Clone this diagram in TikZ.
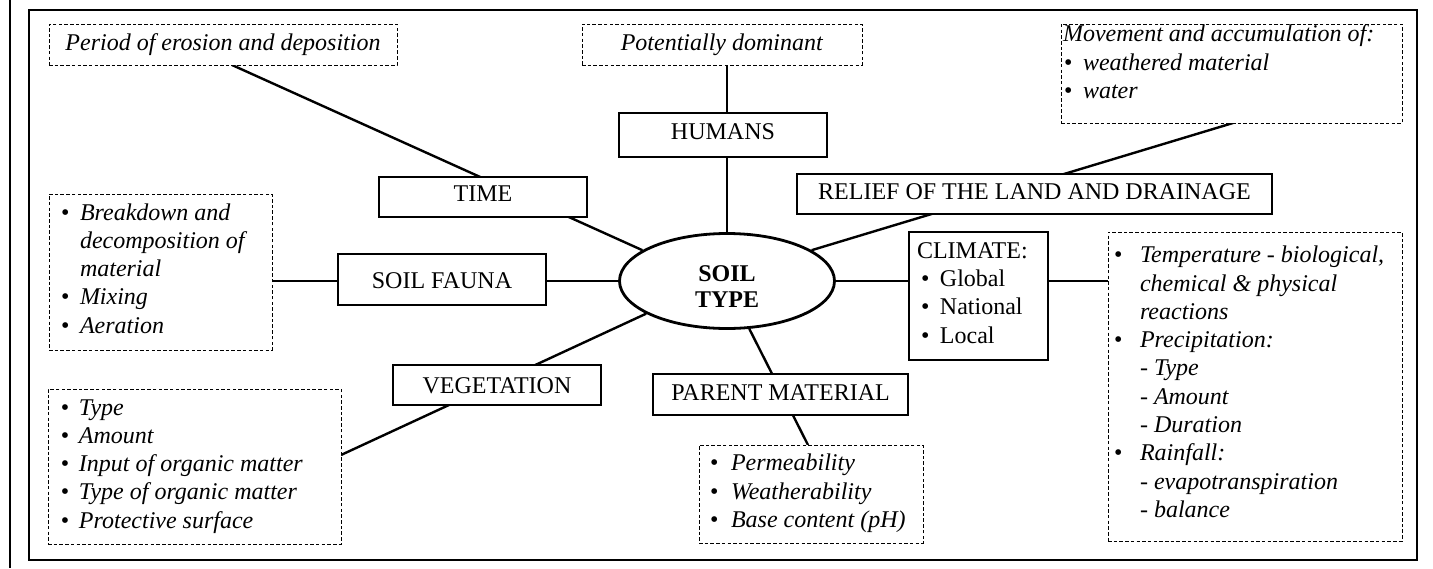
\documentclass[tikz,border=0pt]{standalone}
\usepackage{fontspec}
\setmainfont{Liberation Serif}
\usetikzlibrary{shapes.geometric,backgrounds}
% #1 width, #2 height, #3 left offset, #4 first baseline from top, #5 lines
\newcommand{\tb}[5]{\vbox to #2pt{\vskip\dimexpr #4pt-\ht\strutbox\relax\hbox to #1pt{\hskip #3pt\begin{tabular}[t]{@{}l@{}}#5\end{tabular}\hss}\vss}}
% #1 width, #2 height, #3 baseline from top, #4 text (centred)
\newcommand{\cb}[4]{\vbox to #2pt{\vskip\dimexpr #3pt-\ht\strutbox\relax\hbox to #1pt{\hss\strut #4\hss}\vss}}
\newcommand{\bu}[1]{\makebox[#1pt][l]{\textbullet}}
\newcommand{\ind}[1]{\hspace*{#1pt}}
\tikzset{
  txt/.style={font=\fontsize{24}{28.3}\selectfont},
  sbox/.style={txt, draw, line width=1.6pt, fill=white, inner sep=0pt, outer sep=0pt, anchor=north west},
  dbox/.style={txt, draw, line width=1pt, dash pattern=on 3.5pt off 2.2pt, fill=white, inner sep=0pt, outer sep=0pt, anchor=north west},
  conn/.style={line width=2.4pt},
  soilshape/.style={draw, ellipse, line width=2.8pt, minimum width=215pt, minimum height=95pt, inner sep=0pt, fill=white, font=\fontsize{24}{26}\selectfont\bfseries},
  frame/.style={line width=2.8pt},
}
\begin{document}
\begin{tikzpicture}[x=1pt, y=-1pt]
\useasboundingbox (0,0) rectangle (1433,568);
\draw[frame] (29,10) rectangle (1417,560);
\draw[line width=1.8pt] (10,0) -- (10,568);

\node[dbox] (period) at (49,24) {\cb{348}{41}{26}{\textit{Period of erosion and deposition}}};
\node[dbox] (potent) at (582,24) {\cb{280}{41}{26}{\textit{Potentially dominant}}};
\node[dbox] (move) at (1061,24) {\tb{341}{99}{2}{17.7}{\textit{Movement and accumulation of:}\\\ind{1}\bu{19}\textit{weathered material}\\\ind{1}\bu{19}\textit{water}}};

\node[sbox] (time) at (379,177) {\cb{208}{40}{24}{TIME}};
\node[sbox] (humans) at (619,113) {\cb{208}{44}{26.3}{HUMANS}};
\node[sbox] (relief) at (797,174) {\cb{475}{40}{25}{RELIEF OF THE LAND AND DRAINAGE}};

\node[sbox] (fauna) at (338,254) {\cb{208}{51}{34}{SOIL FAUNA}};
\node[dbox] (faunad) at (49,194) {\tb{223}{156}{12}{26}{\bu{19}\textit{Breakdown and}\\\ind{19}\textit{decomposition of}\\\ind{19}\textit{material}\\\bu{19}\textit{Mixing}\\\bu{19}\textit{Aeration}}};

\node[sbox] (climate) at (909,232) {\tb{139}{128}{8}{26.3}{CLIMATE:\\\ind{4}\bu{19}Global\\\ind{4}\bu{19}National\\\ind{4}\bu{19}Local}};
\node[dbox] (climated) at (1108,232) {\tb{294}{309}{6}{30.7}{\bu{26}\textit{Temperature - biological,}\\\ind{26}\textit{chemical \& physical}\\\ind{26}\textit{reactions}\\\bu{26}\textit{Precipitation:}\\\ind{26}\textit{- Type}\\\ind{26}\textit{- Amount}\\\ind{26}\textit{- Duration}\\\bu{26}\textit{Rainfall:}\\\ind{26}\textit{- evapotranspiration}\\\ind{26}\textit{- balance}}};

\node[sbox] (veg) at (393,365) {\cb{208}{40}{28}{VEGETATION}};
\node[dbox] (vegd) at (48,389) {\tb{293}{155}{13}{26}{\bu{18}\textit{Type}\\\bu{18}\textit{Amount}\\\bu{18}\textit{Input of organic matter}\\\bu{18}\textit{Type of organic matter}\\\bu{18}\textit{Protective surface}}};

\node[sbox] (parent) at (653,374) {\cb{255}{41}{26}{PARENT MATERIAL}};
\node[dbox] (parentd) at (699,445) {\tb{224}{98}{11}{25.7}{\bu{21}\textit{Permeability}\\\bu{21}\textit{Weatherability}\\\bu{21}\textit{Base content (pH)}}};

\node[soilshape] (soil) at (727,281) {\smash{\begin{tabular}[t]{@{}c@{}}SOIL\\TYPE\end{tabular}}};

\begin{scope}[on background layer]
\draw[conn] ([xshift=183pt]period.south west) -- (soil.160);
\draw[conn] (soil.north) -- (soil.north |- potent.south);
\draw[conn] ([xshift=172pt]move.south west) -- (soil.20);
\draw[conn] (soil.east) -- (climate.west |- soil.east);
\draw[conn] (climate.east |- soil.east) -- (climated.west |- soil.east);
\draw[conn] (soil.west) -- (fauna.east |- soil.west);
\draw[conn] (fauna.west |- soil.west) -- (faunad.east |- soil.west);
\draw[conn] ([yshift=-66pt]vegd.north east) -- (soil.202);
\draw[conn] ([xshift=109pt]parentd.north west) -- (soil.295);
\end{scope}
\end{tikzpicture}
\end{document}
